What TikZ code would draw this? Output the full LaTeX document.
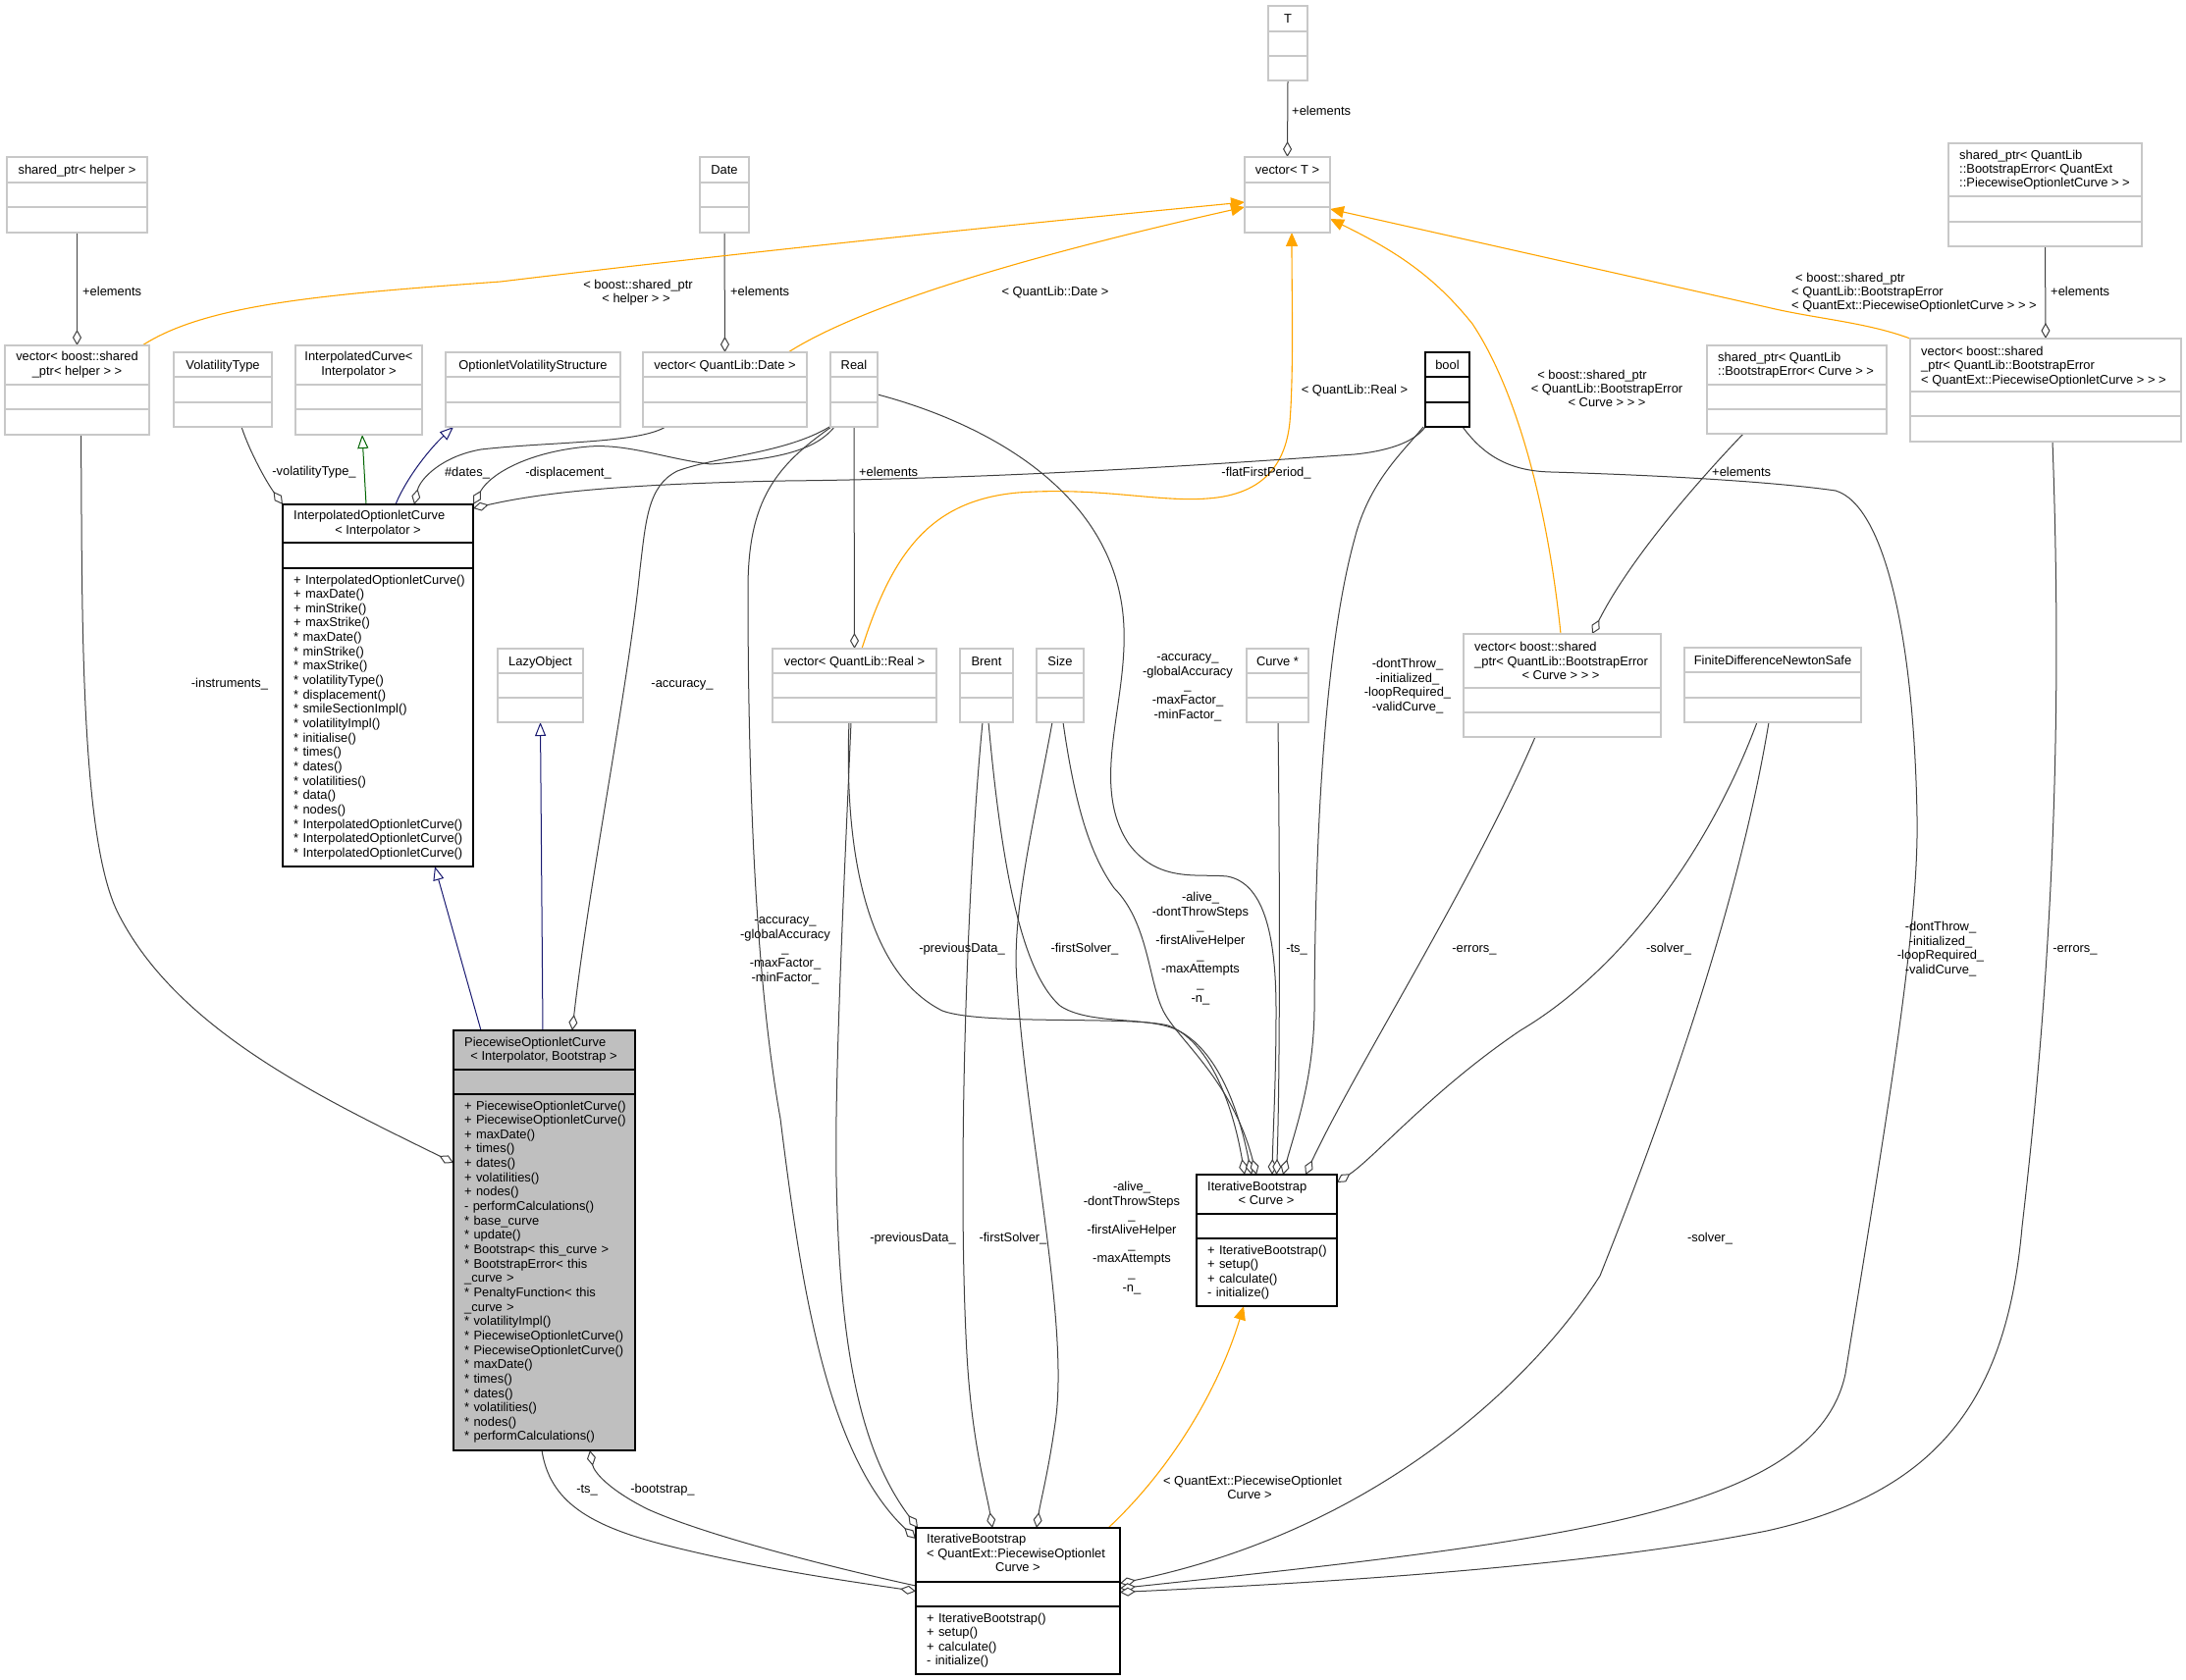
\documentclass[tikz,border=0pt]{standalone}
\usepackage{fontspec}
\setmainfont{Liberation Sans}
\usetikzlibrary{arrows.meta}
\definecolor{boxgrey}{RGB}{200,200,200}
\definecolor{edgegrey}{RGB}{64,64,64}
\definecolor{navyc}{RGB}{25,25,112}
\definecolor{greenc}{RGB}{0,100,0}
\definecolor{orangec}{RGB}{255,165,0}
\definecolor{pwfill}{RGB}{191,191,191}
\newcommand{\fs}{\fontsize{12.9}{14.65}\selectfont}
\pgfdeclarelayer{bg}
\pgfsetlayers{bg,main}
\newcommand{\umlbox}[9]{%
  \node[draw=#8, fill=#9, line width=1.2pt, rectangle, inner sep=0pt, outer sep=0pt,
        minimum width={#4-#2}, minimum height={#5-#3}] (#1) at ({(#2+#4)/2},{(#3+#5)/2}) {};
  \draw[draw=#8, line width=1.2pt] (#2,#6) -- (#4,#6);
  \draw[draw=#8, line width=1.2pt] (#2,#7) -- (#4,#7);
}
\newcommand{\tl}[3]{\node[t, anchor=base] at (#1,#2) {#3};}
\newcommand{\tlw}[3]{\node[t, anchor=base west] at (#1,#2) {#3};}
\tikzset{
  t/.style={font=\fs, inner sep=0pt, text=black},
  ml/.style={t, text width=300pt, align=center, anchor=base},
  mem/.style={t, align=left, anchor=base west},
  agg/.style={draw=edgegrey, line width=1pt, -{Diamond[fill=white,length=16pt,width=9pt]}},
  inhn/.style={draw=navyc, line width=1pt, -{Triangle[fill=white,length=14pt,width=11pt]}},
  inhg/.style={draw=greenc, line width=1pt, -{Triangle[fill=white,length=14pt,width=11pt]}},
  tmpl/.style={draw=orangec, line width=1.1pt, -{Triangle[length=14pt,width=12pt]}}
}
\begin{document}
\begin{tikzpicture}[x=1pt,y=-1pt]
\begin{pgfonlayer}{bg}
\fill[white] (0,0) rectangle (2227,1712);
\end{pgfonlayer}
\useasboundingbox (0,0) rectangle (2227,1712);

% ---------------- boxes ----------------
\umlbox{T}{1292}{6}{1332}{82}{32}{57}{boxgrey}{white}
\tl{1312}{23.5}{T}
\umlbox{vecT}{1268}{160}{1355}{237}{186}{211}{boxgrey}{white}
\tl{1311.5}{177.5}{vector< T >}
\umlbox{sphelper}{7}{160}{150}{237}{186}{211}{boxgrey}{white}
\tl{78.5}{177.5}{shared\_ptr< helper >}
\umlbox{vechelper}{5}{352}{152}{443}{392}{417}{boxgrey}{white}
\tl{78.5}{367.5}{vector< boost::shared}
\tl{78.5}{382.5}{\_ptr< helper > >}
\umlbox{voltype}{177}{359}{277}{435}{384}{410}{boxgrey}{white}
\tl{227}{376}{VolatilityType}
\umlbox{interpcurve}{301}{352}{430}{443}{392}{417}{boxgrey}{white}
\tl{365.5}{367.5}{InterpolatedCurve<}
\tl{365.5}{382.5}{Interpolator >}
\umlbox{ovs}{454}{359}{632}{435}{384}{410}{boxgrey}{white}
\tl{543}{376}{OptionletVolatilityStructure}
\umlbox{date}{713}{160}{763}{237}{186}{211}{boxgrey}{white}
\tl{738}{177.5}{Date}
\umlbox{vecdate}{655}{359}{822}{435}{384}{410}{boxgrey}{white}
\tl{738.5}{376}{vector< QuantLib::Date >}
\umlbox{real}{846}{359}{894}{435}{384}{410}{boxgrey}{white}
\tl{870}{376}{Real}
\umlbox{bool}{1452}{359}{1497}{435}{384}{410}{black}{white}
\tl{1474.5}{376}{bool}
\umlbox{spQE}{1985}{146}{2182}{251}{200}{226}{boxgrey}{white}
\tlw{1996}{162.5}{shared\_ptr< QuantLib}
\tlw{1996}{176.5}{::BootstrapError< QuantExt}
\tlw{1996}{190.5}{::PiecewiseOptionletCurve > >}
\umlbox{vecQE}{1946}{345}{2222}{450}{399}{424}{boxgrey}{white}
\tlw{1957}{362}{vector< boost::shared}
\tlw{1957}{376.5}{\_ptr< QuantLib::BootstrapError}
\tlw{1957}{391}{< QuantExt::PiecewiseOptionletCurve > > >}
\umlbox{spCurve}{1739}{352}{1922}{442}{392}{417}{boxgrey}{white}
\tlw{1750}{368.5}{shared\_ptr< QuantLib}
\tlw{1750}{382.5}{::BootstrapError< Curve > >}
\umlbox{interp}{288}{514}{482}{883}{553}{579}{black}{white}
\tlw{299}{529.5}{InterpolatedOptionletCurve}
\tl{385}{544.5}{< Interpolator >}
\node[mem, text width=180pt] at (299,595) {+ InterpolatedOptionletCurve()\\+ maxDate()\\+ minStrike()\\+ maxStrike()\\{*} maxDate()\\{*} minStrike()\\{*} maxStrike()\\{*} volatilityType()\\{*} displacement()\\{*} smileSectionImpl()\\{*} volatilityImpl()\\{*} initialise()\\{*} times()\\{*} dates()\\{*} volatilities()\\{*} data()\\{*} nodes()\\{*} InterpolatedOptionletCurve()\\{*} InterpolatedOptionletCurve()\\{*} InterpolatedOptionletCurve()};
\umlbox{lazy}{507}{661}{594}{736}{686}{711}{boxgrey}{white}
\tl{550.5}{678}{LazyObject}
\umlbox{vecreal}{787}{661}{954}{736}{686}{711}{boxgrey}{white}
\tl{870.5}{678}{vector< QuantLib::Real >}
\umlbox{brent}{978}{661}{1032}{736}{686}{711}{boxgrey}{white}
\tl{1005}{678}{Brent}
\umlbox{size}{1056}{661}{1104}{736}{686}{711}{boxgrey}{white}
\tl{1080}{678}{Size}
\umlbox{curveptr}{1270}{661}{1333}{736}{686}{711}{boxgrey}{white}
\tl{1301.5}{678}{Curve *}
\umlbox{vecCurve}{1491}{646}{1692}{751}{701}{726}{boxgrey}{white}
\tlw{1502}{663.5}{vector< boost::shared}
\tlw{1502}{678}{\_ptr< QuantLib::BootstrapError}
\tl{1590}{692.5}{< Curve > > >}
\umlbox{fdns}{1716}{660}{1896}{736}{685}{711}{boxgrey}{white}
\tl{1806}{677}{FiniteDifferenceNewtonSafe}
\umlbox{pw}{462}{1050}{647}{1478}{1090}{1115}{black}{pwfill}
\tlw{473}{1066.5}{PiecewiseOptionletCurve}
\tl{554}{1080.5}{< Interpolator, Bootstrap >}
\node[mem, text width=172pt] at (473,1131) {+ PiecewiseOptionletCurve()\\+ PiecewiseOptionletCurve()\\+ maxDate()\\+ times()\\+ dates()\\+ volatilities()\\+ nodes()\\- performCalculations()\\{*} base\_curve\\{*} update()\\{*} Bootstrap< this\_curve >\\{*} BootstrapError< this\\\_curve >\\{*} PenaltyFunction< this\\\_curve >\\{*} volatilityImpl()\\{*} PiecewiseOptionletCurve()\\{*} PiecewiseOptionletCurve()\\{*} maxDate()\\{*} times()\\{*} dates()\\{*} volatilities()\\{*} nodes()\\{*} performCalculations()};
\umlbox{ibCurve}{1219}{1197}{1362}{1331}{1237}{1262}{black}{white}
\tlw{1230}{1213.5}{IterativeBootstrap}
\tl{1290}{1227.5}{< Curve >}
\node[mem, text width=130pt] at (1230,1278) {+ IterativeBootstrap()\\+ setup()\\+ calculate()\\- initialize()};
\umlbox{ibQE}{933}{1557}{1141}{1706}{1612}{1637}{black}{white}
\tlw{944}{1572.5}{IterativeBootstrap}
\tlw{944}{1587.5}{< QuantExt::PiecewiseOptionlet}
\tl{1037}{1601.5}{Curve >}
\node[mem, text width=190pt] at (944,1653) {+ IterativeBootstrap()\\+ setup()\\+ calculate()\\- initialize()};

% ---------------- connectors ----------------
\begin{pgfonlayer}{bg}
% +elements
\draw[agg] (T.south) -- (vecT.north);
\draw[agg] (sphelper.south) -- (vechelper.north);
\draw[agg] (date.south) -- (vecdate.north);
\draw[agg] (spQE.south) -- (vecQE.north);
\draw[agg] ([xshift=-54.5pt]spCurve.south) .. controls (1730,490) and (1660,570) .. ([xshift=30.5pt]vecCurve.north);
\draw[agg] (real.south) -- (vecreal.north);
% template instantiations
\draw[tmpl] ([xshift=66.5pt]vechelper.north) .. controls (210,310) and (330,300) .. (510,287) .. controls (750,258) and (1000,232) .. ([yshift=-7.5pt]vecT.west);
\draw[tmpl] ([xshift=64.5pt]vecdate.north) .. controls (880,310) and (1050,260) .. ([yshift=-12.5pt]vecT.west);
\draw[tmpl] ([xshift=7.5pt]vecreal.north) .. controls (910,560) and (950,510) .. (1037,502) .. controls (1120,496) and (1180,512) .. (1230,508) .. controls (1290,504) and (1310,470) .. (1314,430) .. controls (1318,380) and (1316,300) .. ([xshift=4.5pt]vecT.south);
\draw[tmpl] ([xshift=-1.5pt]vecCurve.north) .. controls (1575,500) and (1540,390) .. (1500,330) .. controls (1460,280) and (1420,255) .. ([yshift=-24.5pt]vecT.east);
\draw[tmpl] ([xshift=-138pt]vecQE.north) .. controls (1900,328) and (1850,325) .. (1800,313) -- ([yshift=-14.5pt]vecT.east);
\draw[tmpl] ([xshift=92pt]ibQE.north) .. controls (1190,1500) and (1240,1420) .. ([xshift=-23.5pt]ibCurve.south);
% inheritance
\draw[inhg] ([xshift=-12pt]interp.north) -- ([xshift=3.5pt]interpcurve.south);
\draw[inhn] ([xshift=18pt]interp.north) .. controls (415,485) and (440,455) .. ([xshift=-81pt]ovs.south);
\draw[inhn] ([xshift=-64.5pt]pw.north) -- ([xshift=58pt]interp.south);
\draw[inhn] ([xshift=-1.5pt]pw.north) -- (lazy.south);
% aggregations
\draw[agg] ([xshift=19pt]voltype.south) .. controls (255,462) and (272,492) .. (interp.north west);
\draw[agg] ([xshift=-60.5pt]vecdate.south) .. controls (650,452) and (560,450) .. (490,458) .. controls (450,465) and (428,488) .. ([xshift=37pt]interp.north);
\draw[agg] ([xshift=-20pt]real.south) .. controls (830,460) and (790,468) .. (724,473) .. controls (680,468) and (640,452) .. (600,455) .. controls (540,460) and (500,482) .. (interp.north east);
\draw[agg] ([xshift=-22.5pt]bool.south) .. controls (1440,452) and (1410,460) .. (1380,463) .. controls (1200,476) and (1000,488) .. (800,490) .. controls (650,493) and (560,500) .. ([yshift=-4pt]interp.north east);
\draw[agg] ([xshift=-25pt]real.south) .. controls (800,462) and (730,465) .. (690,480) .. controls (660,495) and (658,530) .. (652,580) .. controls (640,700) and (600,900) .. ([xshift=28.5pt]pw.north);
\draw[agg] ([xshift=-23pt]real.south) .. controls (790,475) and (762,510) .. (762,600) .. controls (762,800) and (770,1000) .. (795,1140) .. controls (815,1300) and (840,1480) .. ([yshift=63.5pt]ibQE.west);
\draw[agg] ([yshift=-5pt]real.east) .. controls (1000,430) and (1140,500) .. (1145,640) .. controls (1148,720) and (1110,800) .. (1150,860) .. controls (1180,900) and (1220,890) .. (1250,893) .. controls (1290,900) and (1300,960) .. (1300,1030) .. controls (1300,1100) and (1297,1150) .. ([xshift=5.5pt]ibCurve.north);
\draw[agg] ([xshift=-3.5pt]vecreal.south) .. controls (860,900) and (850,1100) .. (852,1200) .. controls (855,1350) and (870,1470) .. ([xshift=-102pt]ibQE.north);
\draw[agg] ([xshift=-5.5pt]vecreal.south) .. controls (860,860) and (880,990) .. (960,1030) .. controls (1000,1045) and (1150,1035) .. (1190,1045) .. controls (1230,1060) and (1255,1120) .. ([xshift=-22.5pt]ibCurve.north);
\draw[agg] ([xshift=-4pt]brent.south) .. controls (985,900) and (975,1200) .. (985,1380) .. controls (990,1470) and (1005,1520) .. ([xshift=-26pt]ibQE.north);
\draw[agg] ([xshift=2pt]brent.south) .. controls (1020,880) and (1040,990) .. (1080,1025) .. controls (1110,1045) and (1170,1035) .. (1200,1050) .. controls (1240,1070) and (1262,1130) .. ([xshift=-15.5pt]ibCurve.north);
\draw[agg] ([xshift=-8pt]size.south) .. controls (1055,830) and (1030,930) .. (1036,1000) .. controls (1045,1150) and (1090,1350) .. (1075,1450) .. controls (1068,1500) and (1060,1530) .. ([xshift=19pt]ibQE.north);
\draw[agg] ([xshift=3pt]size.south) .. controls (1095,820) and (1110,870) .. (1135,905) .. controls (1170,940) and (1170,1000) .. (1185,1030) .. controls (1200,1060) and (1255,1100) .. ([xshift=-10.5pt]ibCurve.north);
\draw[agg] ([xshift=0.5pt]curveptr.south) .. controls (1304,900) and (1304,1100) .. ([xshift=10pt]ibCurve.north);
\draw[agg] ([xshift=-24.5pt]bool.south) .. controls (1430,460) and (1395,490) .. (1380,549) .. controls (1355,640) and (1340,800) .. (1339,1030) .. controls (1338,1100) and (1320,1150) .. ([xshift=16.5pt]ibCurve.north);
\draw[agg] ([xshift=-27.5pt]vecCurve.south) .. controls (1500,900) and (1380,1090) .. ([xshift=39.5pt]ibCurve.north);
\draw[agg] ([xshift=-16pt]fdns.south) .. controls (1740,870) and (1650,990) .. (1549,1050) .. controls (1460,1110) and (1400,1180) .. ([yshift=59pt]ibCurve.east);
\draw[agg] ([xshift=-4pt]fdns.south) .. controls (1770,930) and (1690,1150) .. (1630,1300) .. controls (1560,1410) and (1400,1560) .. ([yshift=18pt]ibQE.east);
\draw[agg] ([xshift=15.5pt]bool.south) .. controls (1510,462) and (1535,480) .. (1580,481) .. controls (1680,484) and (1800,490) .. (1870,500) .. controls (1920,515) and (1950,650) .. (1953,833) .. controls (1955,950) and (1920,1150) .. (1880,1400) .. controls (1850,1540) and (1600,1570) .. ([yshift=13pt]ibQE.east);
\draw[agg] ([xshift=7pt]vecQE.south) .. controls (2100,700) and (2095,950) .. (2060,1250) .. controls (2045,1420) and (1980,1520) .. (1800,1560) .. controls (1600,1600) and (1300,1615) .. ([yshift=9pt]ibQE.east);
\draw[agg] ([xshift=4pt]vechelper.south) .. controls (84,600) and (80,850) .. (120,930) .. controls (180,1050) and (330,1120) .. ([yshift=79pt]pw.west);
\draw[agg] ([xshift=-2.5pt]pw.south) .. controls (560,1530) and (600,1555) .. (680,1575) .. controls (780,1600) and (870,1612) .. ([yshift=10pt]ibQE.west);
\draw[agg] ([yshift=15.5pt]ibQE.west) .. controls (850,1598) and (720,1565) .. (660,1538) .. controls (620,1518) and (605,1500) .. ([xshift=46.5pt]pw.south);
\end{pgfonlayer}

% ---------------- edge labels ----------------
\tlw{1316}{117.5}{+elements}
\tlw{84}{301.5}{+elements}
\tlw{744}{301.5}{+elements}
\tlw{2089}{301.5}{+elements}
\tlw{875}{485.5}{+elements}
\tlw{1744}{485.5}{+elements}
\tl{650}{294.5}{< boost::shared\_ptr}
\tl{648}{308.5}{< helper > >}
\tl{1075}{301.5}{< QuantLib::Date >}
\tl{1380}{401.5}{< QuantLib::Real >}
\tl{1622}{386.5}{< boost::shared\_ptr}
\tl{1637}{400.5}{< QuantLib::BootstrapError}
\tl{1637}{414.5}{< Curve > > >}
\tlw{1829}{287.5}{< boost::shared\_ptr}
\tlw{1825}{301.5}{< QuantLib::BootstrapError}
\tlw{1825}{315.5}{< QuantExt::PiecewiseOptionletCurve > > >}
\tl{1276}{1513.5}{< QuantExt::PiecewiseOptionlet}
\tl{1273}{1527.5}{Curve >}
\tl{320}{484.5}{-volatilityType\_}
\tl{476}{485.5}{\#dates\_}
\tl{579}{485.5}{-displacement\_}
\tl{1290}{485.5}{-flatFirstPeriod\_}
\tl{234}{700.5}{-instruments\_}
\tl{695}{700.5}{-accuracy\_}
\node[ml] at (1210,673.5) {-accuracy\_\\-globalAccuracy\\\_\\-maxFactor\_\\-minFactor\_};
\node[ml] at (800,941.5) {-accuracy\_\\-globalAccuracy\\\_\\-maxFactor\_\\-minFactor\_};
\node[ml] at (1223,918.5) {-alive\_\\-dontThrowSteps\\\_\\-firstAliveHelper\\\_\\-maxAttempts\\\_\\-n\_};
\node[ml] at (1153,1213.5) {-alive\_\\-dontThrowSteps\\\_\\-firstAliveHelper\\\_\\-maxAttempts\\\_\\-n\_};
\node[ml] at (1434,680.5) {-dontThrow\_\\-initialized\_\\-loopRequired\_\\-validCurve\_};
\node[ml] at (1977,948.5) {-dontThrow\_\\-initialized\_\\-loopRequired\_\\-validCurve\_};
\tl{980}{970.5}{-previousData\_}
\tl{1105}{970.5}{-firstSolver\_}
\tl{1321}{970.5}{-ts\_}
\tl{1502}{970.5}{-errors\_}
\tl{1700}{970.5}{-solver\_}
\tl{2114}{970.5}{-errors\_}
\tl{930}{1265.5}{-previousData\_}
\tl{1032}{1265.5}{-firstSolver\_}
\tl{1742}{1265.5}{-solver\_}
\tl{598}{1521.5}{-ts\_}
\tl{675}{1521.5}{-bootstrap\_}
\end{tikzpicture}
\end{document}
